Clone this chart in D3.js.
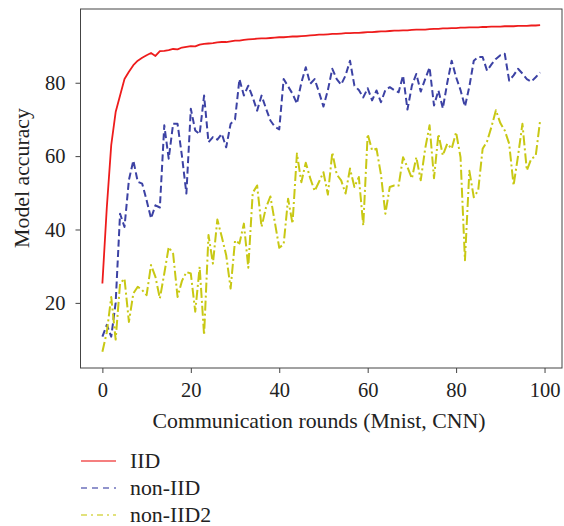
<!DOCTYPE html>
<html>
<head>
<meta charset="utf-8">
<script src="https://cdn.jsdelivr.net/npm/d3@7"></script>
<style>
  body { margin: 0; background: #fff; }
  text { font-family: "Liberation Serif", "DejaVu Serif", serif; fill: #222; }
</style>
</head>
<body>
<div id="chart"></div>
<script>
// Data (accuracy per communication round 0..99)
const iid = [25.3, 46, 63, 72, 76.5, 81, 83, 84.8, 86, 86.8,
  87.5, 88.1, 87.3, 88.6, 88.7, 88.9, 89.2, 89.1, 89.6, 89.8,
  90, 89.9, 90.4, 90.6, 90.7, 90.8, 91, 91.1, 91.1, 91.3,
  91.5, 91.5, 91.7, 91.8, 91.9, 92, 92.1, 92.1, 92.2, 92.3,
  92.4, 92.4, 92.5, 92.6, 92.6, 92.7, 92.8, 92.9, 93, 93.1,
  93.1, 93.2, 93.3, 93.3, 93.4, 93.5, 93.5, 93.6, 93.6, 93.7,
  93.8, 93.8, 93.9, 94, 94, 94.1, 94.2, 94.2, 94.3, 94.3,
  94.4, 94.5, 94.5, 94.5, 94.6, 94.7, 94.7, 94.8, 94.8, 94.9,
  94.9, 95, 95, 95.1, 95.1, 95.1, 95.2, 95.2, 95.3, 95.3,
  95.3, 95.4, 95.4, 95.4, 95.5, 95.5, 95.5, 95.6, 95.6, 95.7];

const nonIid = [10.8, 14, 10.8, 20, 44.3, 40.7, 53.5, 58.8, 53, 52.5,
  48, 43, 46.6, 46, 68.4, 59.3, 68.8, 68.8, 60, 49.8,
  72.9, 67, 66, 76.5, 63.8, 65.2, 64.5, 66.1, 62.4, 68.8,
  70, 81, 76.5, 79.2, 76, 72.4, 76.5, 73, 69.7, 68,
  67.3, 81, 79, 77, 74.3, 80, 84.2, 79.7, 81, 77.4,
  73.5, 78, 83.8, 81, 79.5, 82, 86, 79.2, 78, 76,
  78.5, 75.2, 77.9, 74.7, 78, 78.8, 78, 77.4, 82, 72.7,
  79.2, 82.4, 77.6, 81, 84.2, 73.8, 77.9, 73, 80, 86,
  81.5, 78, 73.5, 79, 86, 87, 87, 83.3, 85, 86.5,
  87.5, 87.9, 80.6, 82, 83.8, 82.5, 81, 80.3, 81.5, 82.8];

const nonIid2 = [6.7, 12, 21.6, 10, 25.3, 26.6, 14.8, 22.6, 24.4, 23.5,
  22.1, 30.3, 27.1, 21.2, 28, 35.2, 33.4, 21.6, 26, 28.4,
  28, 17.6, 29.8, 11.2, 38.5, 30.7, 42.7, 38, 33, 23.9,
  37, 36.2, 41.6, 29.6, 50, 52, 40.7, 46, 49, 42,
  35, 36, 48.4, 41.6, 60.7, 52.9, 58.2, 54, 50.5, 53,
  55.6, 49.5, 61, 55, 53.4, 49.8, 56.6, 51.6, 54.3, 41.1,
  66, 61.6, 62, 55, 44.3, 51.6, 52, 52, 59.7, 57,
  53.9, 59.7, 53.4, 62, 68.4, 54, 66, 60.2, 63.4, 62,
  66.5, 59.7, 31.6, 56, 48.8, 50.7, 62, 64, 68, 72.5,
  69, 67, 63.4, 52, 60, 68.8, 56.1, 59.3, 60, 69.7];

const rounds = d3.range(iid.length);
const xTicks = [0, 20, 40, 60, 80, 100];
const yTicks = [20, 40, 60, 80];

const series = [
  {name: "IID", values: iid, color: "#ee1c1c", dash: null},
  {name: "non-IID", values: nonIid, color: "#3c42a4", dash: "7,3.5"},
  {name: "non-IID2", values: nonIid2, color: "#c8c814", dash: "10,3,2,3"}
];

const width = 564;
const height = 526;
const plot = {left: 80.5, right: 562, top: 9, bottom: 368};

const svg = d3.select("#chart")
  .append("svg")
  .attr("width", width)
  .attr("height", height);

const x = d3.scaleLinear()
  .domain([-4.95, 103.95])
  .range([plot.left, plot.right]);

const y = d3.scaleLinear()
  .domain([2.25, 100.1])
  .range([plot.bottom, plot.top]);

// axes
const xAxis = svg.append("g")
  .attr("transform", `translate(0,${plot.bottom})`)
  .call(d3.axisBottom(x).tickValues(xTicks).tickSize(5).tickPadding(9).tickSizeOuter(0));

const yAxis = svg.append("g")
  .attr("transform", `translate(${plot.left},0)`)
  .call(d3.axisLeft(y).tickValues(yTicks).tickSize(5).tickPadding(10).tickSizeOuter(0));

[xAxis, yAxis].forEach(g => {
  g.select(".domain").remove();
  g.selectAll(".tick line").attr("stroke", "#444");
  g.selectAll(".tick text")
    .attr("font-family", "Liberation Serif, DejaVu Serif, serif")
    .attr("font-size", 20.5)
    .attr("fill", "#222");
});

// frame
svg.append("rect")
  .attr("x", plot.left)
  .attr("y", plot.top)
  .attr("width", plot.right - plot.left)
  .attr("height", plot.bottom - plot.top)
  .attr("fill", "none")
  .attr("stroke", "#444")
  .attr("stroke-width", 1);

// lines
const line = d3.line()
  .x((d, i) => x(rounds[i]))
  .y(d => y(d));

series.forEach(s => {
  svg.append("path")
    .datum(s.values)
    .attr("d", line)
    .attr("fill", "none")
    .attr("stroke", s.color)
    .attr("stroke-width", s.dash ? 2 : 1.8)
    .attr("stroke-linejoin", "round")
    .attr("stroke-dasharray", s.dash);
});

// axis titles
svg.append("text")
  .attr("x", 319)
  .attr("y", 428)
  .attr("text-anchor", "middle")
  .attr("font-size", 21.8)
  .text("Communication rounds (Mnist, CNN)");

svg.append("text")
  .attr("transform", "translate(29,178) rotate(-90)")
  .attr("text-anchor", "middle")
  .attr("font-size", 21.8)
  .text("Model accuracy");

// legend
const legend = svg.append("g");
series.forEach((s, i) => {
  const ly = 461 + i * 27;
  legend.append("line")
    .attr("x1", 81).attr("x2", 116)
    .attr("y1", ly).attr("y2", ly)
    .attr("stroke", s.color)
    .attr("stroke-width", 1.6)
    .attr("stroke-opacity", 0.75)
    .attr("stroke-dasharray", s.dash ? (i === 1 ? "6,5" : "6,4,2,4") : null);
  legend.append("text")
    .attr("x", 130)
    .attr("y", ly + 7)
    .attr("font-size", 21.8)
    .text(s.name);
});
</script>
</body>
</html>
